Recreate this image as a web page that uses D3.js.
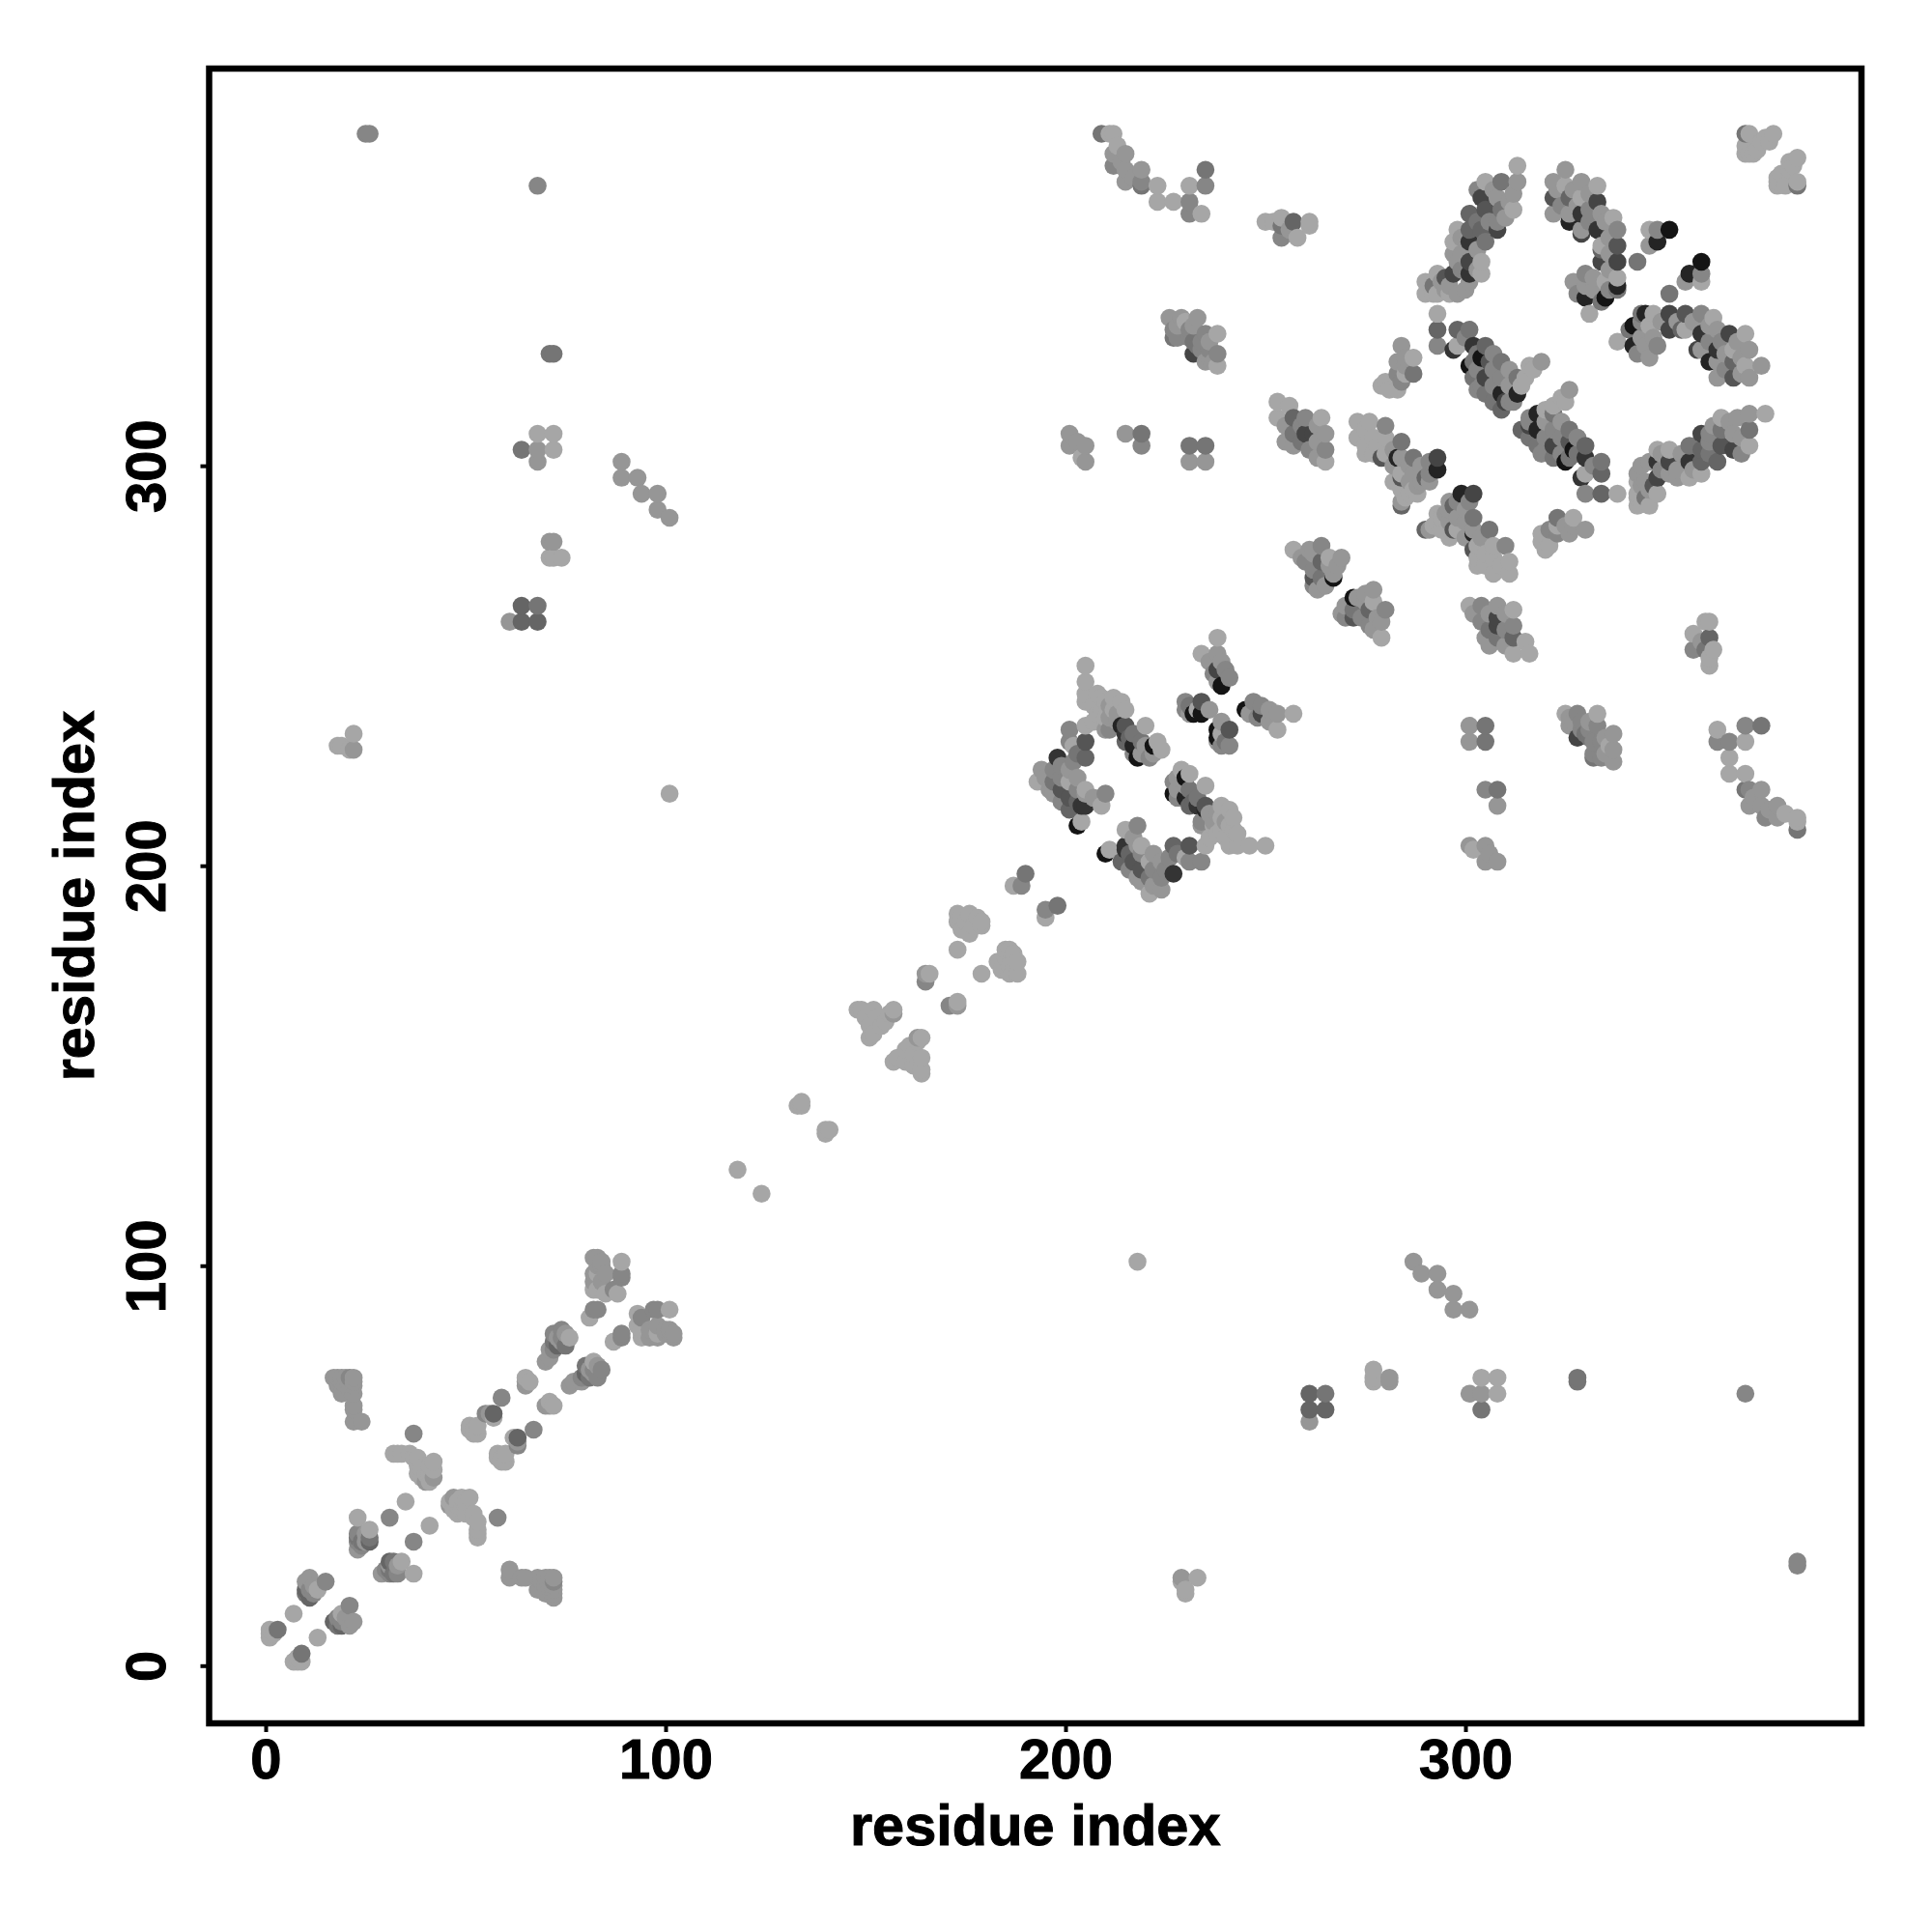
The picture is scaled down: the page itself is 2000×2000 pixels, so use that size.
<!DOCTYPE html>
<html><head><meta charset="utf-8">
<script src="https://cdn.jsdelivr.net/npm/d3@7"></script>
<style>html,body{margin:0;padding:0;background:#fff}svg{display:block}</style>
</head><body><svg id="c" width="2000" height="2000"></svg>
<script>
// contacts: [residue i, residue j, darkness level 0-9]; the map is symmetric
const nTerminal = [[1,7,0],[1,8,0],[1,9,0],[2,8,0],[3,9,3],[7,13,0],[10,18,3],[10,19,4],[11,17,4],[11,19,2],[11,22,1],[12,20,1],[13,19,0],[15,21,2],[10,21,1],[12,18,2],
[23,29,1],[23,31,2],[23,32,3],[23,33,2],[23,37,0],[24,30,2],[24,31,3],[26,31,4],[26,32,3],[26,34,0],[25,33,1],[31,37,2],[35,41,0],[25,31,1],
[37,58,2],[32,53,0],[33,53,0],[36,53,0],[37,52,0],[38,52,0],[38,50,0],[38,48,0],[40,46,1],[41,46,0],[39,47,0],[41,48,0],[42,49,0],[42,51,0],[42,47,1],[40,50,0],[34,53,0],[39,49,0],[40,48,0],[41,50,0],
[17,72,1],[18,72,1],[19,72,1],[19,71,1],[20,72,1],[21,72,2],[22,72,1],[22,71,1],[19,68,1],[22,68,1],[22,65,1],[22,64,1],[22,61,1],[24,61,1],[20,70,1],[21,69,1],[22,70,1],[18,70,1]];
const helixChain = [[52,59,0],[51,59,0],[52,58,0],[53,60,0],[55,63,2],[56,63,1],[57,62,0],[57,63,4],[59,67,2],[65,71,1],[65,72,0],[65,70,1],[70,76,1],[71,77,1],[72,79,2],[72,81,3],[73,80,4],[72,83,2],[74,84,2],[74,82,2],[75,80,3],[76,82,0],[81,87,0],[82,89,2],[83,89,2],[51,60,0],[53,58,0],[66,71,0],[73,82,1],[74,81,1],[71,79,1],[75,83,1],
[82,102,1],[83,102,1],[84,101,1],[84,100,1],[82,98,1],[83,98,0],[85,98,1],[82,94,0],[83,94,0],[85,93,0],[87,94,2],[89,101,0],[89,98,2],[89,97,2],[88,93,0],[82,96,1],[84,96,1],[83,100,1],[84,94,0]];
const farContacts = [[25,383,2],[26,383,2],[68,370,2],[71,328,3],[72,328,3],[64,304,3],[68,308,0],[72,308,0],[68,304,1],[72,304,0],[68,301,1],[71,281,1],[72,277,0],[71,277,0],[74,277,0],[72,281,1],[64,265,4],[68,265,3],[64,261,4],[68,261,4],[61,261,1],[89,301,1],[89,297,1],[93,297,1],[94,293,1],[98,293,1],[98,289,1],[101,287,1],[18,230,0],[19,230,0],[22,233,0],[22,229,1],[21,229,0],[101,218,0]];
const middleDiagonal = [[118,124,0],[133,140,0],[134,140,0],[134,141,0],[148,164,0],[149,164,0],[152,164,0],[156,163,0],[157,163,1],[157,164,0],[151,160,0],[154,160,0],[151,157,0],[152,158,0],[150,162,0],[153,162,0],[155,161,0],[165,171,2],[165,173,1],[166,173,0],[173,179,0],[173,186,0],[173,188,0],[174,187,0],[176,188,0],[176,183,0],[179,186,0],[179,185,0],[177,185,0],[174,184,0],[175,186,0],[178,187,0],[187,195,0],[189,195,2],[190,198,3]];
const clusterCentral = [[205,250,0],[205,246,0],[205,243,0],[205,241,0],[208,243,0],[209,242,0],[210,241,0],[211,240,1],[212,242,0],[213,238,1],[215,239,0],[208,238,0],[210,237,0],
[210,234,1],[211,234,2],[214,235,8],[215,235,5],[215,233,7],[216,232,4],[215,231,4],[220,235,0],[219,231,3],[217,230,8],[218,227,9],[219,228,1],[221,227,2],[222,230,9],[223,231,0],
[201,234,2],[205,235,0],[201,231,2],[205,231,5],[205,227,4],[202,230,0],[198,227,7],[202,226,2],[194,224,1],[193,221,0],[197,224,2],[197,221,3],[197,218,1],[199,219,5],[201,224,1],[201,221,0],[201,217,5],[205,219,0],[205,218,1],[203,216,4],[205,215,7],[204,215,7],[201,214,4],[210,218,2],[209,215,0],[204,211,0],[203,210,9],
[238,257,0],[234,253,0],[238,253,1],[238,249,6],[240,249,2],[239,251,1],[239,245,9],[238,246,1],[230,241,2],[234,241,5],[230,239,2],[232,238,9],[233,239,0],[231,238,1],[234,238,9]];
const centralInfill = [[207,240,0],[209,239,0],[211,237,1],[213,236,1],[212,239,0],[214,241,0],[199,222,2],[199,225,2],[203,228,3],[203,222,1],[203,219,2],[199,216,2],[207,217,1],[217,233,3],[217,228,2],[220,230,1],[222,228,1],[224,229,0],[237,248,2],[236,251,1],[241,247,2],[231,240,3],[236,239,1],[207,236,0],[195,222,1],[196,219,1]];
const topArc = [[209,383,3],[212,383,0],[211,383,0],[212,378,1],[212,375,2],[215,378,1],[215,374,1],[215,371,1],[219,374,1],[219,371,2],[219,370,3],[223,370,0],[223,366,0],[227,366,0],[231,370,0],[231,366,2],[231,363,2],[234,363,0],[235,374,3],[235,370,2],[213,380,0],[214,376,1],[217,372,1]];
const groupUpper = [[226,337,1],[227,332,3],[228,332,2],[229,337,1],[230,336,0],[233,337,1],[231,332,2],[232,328,6],[232,331,3],[235,333,2],[238,333,0],[234,329,2],[238,328,2],[235,326,1],[238,325,0],[236,327,1],[233,330,3],[228,335,1],[232,335,1],[234,331,2],[236,331,1],[236,329,2],[237,326,1],[227,334,2],[231,334,2],
[201,308,1],[201,305,1],[205,305,1],[205,301,1],[204,302,0],[215,308,1],[219,308,3],[219,305,2],[231,305,3],[235,305,3],[231,301,1],[235,301,1],[203,306,1],
[250,361,0],[254,362,0],[254,360,3],[257,361,4],[261,361,0],[261,360,0],[254,357,2],[258,357,0],[252,361,0],[256,359,1]];
const clusterTop = [[313,375,0],[305,371,0],[309,371,3],[313,371,1],[312,368,1],[304,367,6],[308,367,1],[312,364,0],[309,364,3],[305,364,5],[308,361,2],[308,359,6],[301,363,4],[301,359,4],[304,359,4],[298,359,0],[301,356,7],[305,356,3],[297,356,0],[301,351,6],[304,351,0],[298,351,1],[297,348,6],[301,348,7],[304,348,0],[301,346,1],
[290,346,0],[290,343,0],[293,348,0],[293,343,0],[298,343,1],[295,344,1],[292,345,3],[295,347,5],
[293,338,0],[293,334,4],[293,330,2],[298,334,4],[301,334,3],[298,330,0],[297,329,7],[302,330,7],[305,330,4],[301,325,9],[302,326,3],[302,322,3],[304,327,9],[306,326,5],[305,322,6],[305,318,3],[309,326,3],[309,322,2],[310,316,6],[309,318,8],[309,314,4],[313,322,3],[314,320,0],[316,325,0],[319,326,1],[313,318,8],[312,316,2],
[284,330,1],[283,326,1],[287,327,0],[287,323,3],[283,323,2],[285,323,0],[279,320,0],[283,319,0],[281,319,0],[284,321,2]];
const topInfill = [[303,369,2],[307,369,1],[311,366,1],[310,362,1],[306,361,2],[303,361,3],[299,357,1],[303,354,1],[299,353,1],[299,349,2],[303,349,1],[296,345,1],[292,343,0],[296,343,0],[300,344,1],[300,332,2],[303,328,3],[303,324,2],[307,328,2],[307,324,2],[307,320,2],[311,324,1],[311,320,1],[311,316,2],[315,322,0],[317,324,0],[304,320,2],[303,319,2],[280,321,0],[285,327,1],[285,325,1],[294,346,1],[297,353,1],[307,316,3]];
const clusterMiddle = [[253,316,0],[256,315,0],[253,312,0],[257,312,4],[260,312,2],[264,312,0],[257,308,3],[260,308,6],[265,308,1],[262,308,6],[257,305,1],[261,304,2],[265,304,2],[265,301,0],[263,306,1],
[273,311,0],[276,311,0],[280,310,2],[273,307,0],[277,307,0],[280,307,0],[277,303,0],[280,303,0],[279,302,5],[284,306,3],[284,302,1],[283,302,8],[287,302,3],[293,302,6],[293,299,8],[284,298,0],[284,297,5],[287,298,1],[284,294,0],[288,295,1],[291,298,2],[290,297,4],[284,291,1],[284,290,4],[286,293,0],[289,296,1]];
const middleInfill = [[255,310,1],[255,306,1],[259,310,2],[259,306,3],[263,310,1],[263,302,1],[275,309,0],[278,305,0],[275,305,0],[282,304,1],[282,300,1],[286,300,1],[286,296,1],[282,296,0],[289,300,1],[291,301,2],[285,292,0],[288,293,0],[291,296,1],[275,303,0],[287,294,0]];
const clusterRight = [[325,374,1],[322,371,1],[325,370,0],[329,371,1],[333,370,0],[322,367,5],[326,367,4],[329,367,0],[333,366,6],[322,363,1],[326,361,8],[326,363,1],[329,363,7],[334,363,1],[337,362,0],[329,359,1],[329,358,6],[333,359,7],[338,359,2],[334,355,0],[334,354,4],[338,355,5],[334,351,6],[338,351,6],[330,348,2],[335,346,0],[338,347,0],[338,345,8],[338,344,3],[330,345,1],[330,342,8],[335,342,9],[334,341,3],
[331,338,0],[343,351,3],[346,359,0],[348,359,2],[351,359,9],[346,355,1],[348,356,8],
[370,383,3],[370,380,0],[371,378,0],[370,378,0],[373,379,0],[372,378,0],[374,381,0],[375,382,0],[377,383,0],[371,383,0],[376,381,0]];
const rightInfill = [[323,369,1],[327,369,1],[331,368,1],[324,365,2],[328,365,1],[331,364,2],[335,361,1],[331,361,2],[336,357,1],[336,353,1],[336,349,1],[332,347,1],[332,344,1],[336,344,2],[328,343,2],[327,346,1]];
const clusterLow = [[257,279,0],[261,279,1],[264,280,2],[260,276,2],[264,276,4],[269,277,1],[266,277,0],[264,272,3],[267,272,9],[267,273,1],[263,269,1],[262,272,5],[262,270,2],[259,277,1],[262,278,1],[266,275,1],[265,270,1],[262,274,2],[268,275,1]];

const xTicks = [0,100,200,300];
const yTicks = [0,100,200,300];
const axisTitle = "residue index";

const contacts = [nTerminal,helixChain,farContacts,middleDiagonal,clusterCentral,centralInfill,topArc,groupUpper,clusterTop,topInfill,clusterMiddle,middleInfill,clusterRight,rightInfill,clusterLow].flat();
const points = contacts.flatMap(([i,j,l]) => [{x:i,y:j,l},{x:j,y:i,l}])
  .sort((a,b) => d3.ascending(a.x,b.x) || d3.ascending(a.y,b.y));

const left=216.5,right=1927,top_=71,bottom=1784;
const x = d3.scaleLinear().domain([-14.13,399.03]).range([left,right]);
const y = d3.scaleLinear().domain([-14.42,399.3]).range([bottom,top_]);
const shade = d3.scaleLinear().domain([0,9]).range(["#a6a6a6","#141414"]);

const svg = d3.select("#c");
svg.append("rect").attr("width",2000).attr("height",2000).attr("fill","#fff");
svg.append("g").selectAll("circle").data(points).join("circle")
  .attr("cx",d=>x(d.x)).attr("cy",d=>y(d.y)).attr("r",9.3).attr("fill",d=>shade(d.l));
svg.append("rect").attr("x",left).attr("y",top_).attr("width",right-left).attr("height",bottom-top_)
  .attr("fill","none").attr("stroke","#000").attr("stroke-width",6.5);

const font = "'Liberation Sans',Arial,sans-serif";
const gx = svg.append("g").attr("transform",`translate(0,${bottom})`)
  .call(d3.axisBottom(x).tickValues(xTicks).tickSize(9).tickPadding(0).tickFormat(d3.format("d")));
gx.select(".domain").remove();
gx.selectAll("line").attr("stroke","#000").attr("stroke-width",4);
gx.selectAll("text").attr("dy",null).attr("y",57).attr("fill","#000").attr("stroke","#000").attr("stroke-width",1)
  .attr("font-family",font).attr("font-weight","bold").attr("font-size",58);

const gy = svg.append("g").attr("transform",`translate(${left},0)`)
  .call(d3.axisLeft(y).tickValues(yTicks).tickSize(9).tickPadding(0).tickFormat(d3.format("d")));
gy.select(".domain").remove();
gy.selectAll("line").attr("stroke","#000").attr("stroke-width",4);
gy.selectAll("text").attr("dy",null).attr("x",null).attr("text-anchor","middle")
  .attr("transform","translate(-46,0) rotate(-90)").attr("fill","#000").attr("stroke","#000").attr("stroke-width",1)
  .attr("font-family",font).attr("font-weight","bold").attr("font-size",58);

svg.append("text").attr("x",(left+right)/2).attr("y",1910).attr("text-anchor","middle").attr("stroke","#000").attr("stroke-width",1)
  .attr("font-family",font).attr("font-weight","bold").attr("font-size",59.5).text(axisTitle);
svg.append("text").attr("transform",`translate(97,${(top_+bottom)/2}) rotate(-90)`).attr("text-anchor","middle").attr("stroke","#000").attr("stroke-width",1)
  .attr("font-family",font).attr("font-weight","bold").attr("font-size",59.5).text(axisTitle);
</script></body></html>
